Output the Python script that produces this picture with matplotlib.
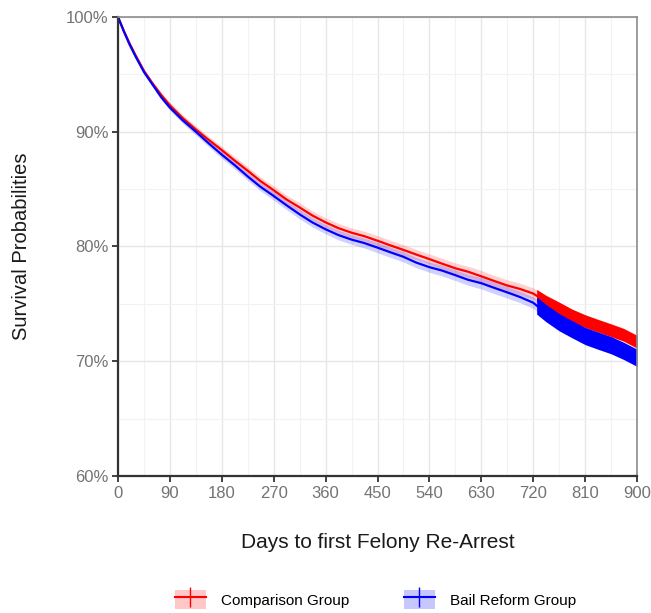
import matplotlib.pyplot as plt
import numpy as np
from matplotlib.patches import Patch
from matplotlib.lines import Line2D

plt.rcParams["font.family"] = ["Liberation Sans", "DejaVu Sans"]

# values (days, survival %)
days = [0, 10, 20, 30, 45, 60, 75, 90, 112, 135, 157, 180, 202, 225, 247,
        270, 292, 315, 337, 360, 382, 405, 427, 450, 472, 495, 517, 540,
        562, 585, 607, 630, 652, 675, 697, 720, 742, 765, 787, 810, 832,
        855, 877, 900]
comparison = [100, 98.8, 97.7, 96.7, 95.3, 94.2, 93.2, 92.3, 91.2, 90.2,
              89.3, 88.4, 87.5, 86.6, 85.7, 84.9, 84.1, 83.4, 82.7, 82.1,
              81.6, 81.2, 80.9, 80.5, 80.1, 79.7, 79.3, 78.9, 78.5, 78.1,
              77.8, 77.4, 77.0, 76.6, 76.3, 75.9, 75.2, 74.6, 74.0, 73.5,
              73.1, 72.7, 72.3, 71.7]
bail_reform = [100, 98.75, 97.6, 96.6, 95.2, 94.1, 93.0, 92.1, 91.0, 90.0,
               89.0, 88.0, 87.1, 86.1, 85.2, 84.4, 83.6, 82.8, 82.1, 81.5,
               81.0, 80.6, 80.3, 79.9, 79.5, 79.1, 78.6, 78.2, 77.9, 77.5,
               77.1, 76.8, 76.4, 76.0, 75.6, 75.1, 74.2, 73.4, 72.8, 72.2,
               71.8, 71.4, 70.9, 70.3]
ci_half = [0, 0.08, 0.12, 0.15, 0.18, 0.2, 0.22, 0.25, 0.27, 0.3, 0.3,
           0.32, 0.33, 0.35, 0.35, 0.37, 0.38, 0.4, 0.4, 0.4, 0.42, 0.42,
           0.43, 0.45, 0.45, 0.45, 0.45, 0.45, 0.47, 0.47, 0.48, 0.5, 0.5,
           0.5, 0.5, 0.5, 0.52, 0.55, 0.55, 0.55, 0.57, 0.6, 0.6, 0.6]
censor_start = 726  # dense censoring marks after this day
# half height of the "+" censor marks, in % units
mark_half = {"Comparison Group": 0.55, "Bail Reform Group": 0.75}

red = "#FF0000"
blue = "#0000FF"

days = np.array(days)
groups = [("Comparison Group", np.array(comparison), red),
          ("Bail Reform Group", np.array(bail_reform), blue)]
ci = np.array(ci_half)

fig = plt.figure(figsize=(6.51, 6.13), dpi=100)
ax = fig.add_axes([0.1813, 0.2235, 0.7972, 0.7488])

for name, surv, col in groups:
    ax.fill_between(days, surv - ci, surv + ci, color=col, alpha=0.18, lw=0)
    ax.plot(days, surv, color=col, lw=1.6)

# censor marks, so dense they merge into a solid band
for name, surv, col in groups:
    xs = np.concatenate([[censor_start], days[days > censor_start]])
    ys = np.interp(xs, days, surv)
    h = mark_half[name]
    ax.fill_between(xs, ys - h, ys + h, color=col, lw=0)

ax.set_xlim(0, 900)
ax.set_ylim(60, 100)
ax.set_xticks(np.arange(0, 901, 90))
ax.set_xticks(np.arange(45, 900, 90), minor=True)
ax.set_yticks([60, 70, 80, 90, 100])
ax.set_yticks([65, 75, 85, 95], minor=True)
ax.set_yticklabels(["60%", "70%", "80%", "90%", "100%"])
ax.grid(which="major", color="#e6e6e6", lw=1.0)
ax.grid(which="minor", color="#f2f2f2", lw=0.8)
ax.set_axisbelow(True)

for side in ["top", "right"]:
    ax.spines[side].set_color("#8c8c8c")
    ax.spines[side].set_linewidth(1.2)
for side in ["left", "bottom"]:
    ax.spines[side].set_color("#333333")
    ax.spines[side].set_linewidth(1.6)
ax.tick_params(which="major", direction="out", length=4, width=1.3,
               color="#333333", labelcolor="#737373", labelsize=12, pad=3)
ax.tick_params(which="minor", length=0)

ax.set_xlabel("Days to first Felony Re-Arrest", fontsize=15, color="#1a1a1a",
              labelpad=23)
ax.set_ylabel("Survival Probabilities", fontsize=14.5, color="#1a1a1a",
              labelpad=25)

handles = [(Patch(facecolor=col, alpha=0.22, lw=0),
            Line2D([], [], color=col, marker="|", markersize=15, lw=1.5))
           for name, surv, col in groups]
labels = [g[0] for g in groups]
fig.legend(handles, labels, loc="center", bbox_to_anchor=(0.577, 0.022),
           ncol=2, frameon=False, fontsize=11, handlelength=2.0,
           handleheight=1.6, columnspacing=3.6, handletextpad=1.0)

fig.savefig("out.png", dpi=100)
